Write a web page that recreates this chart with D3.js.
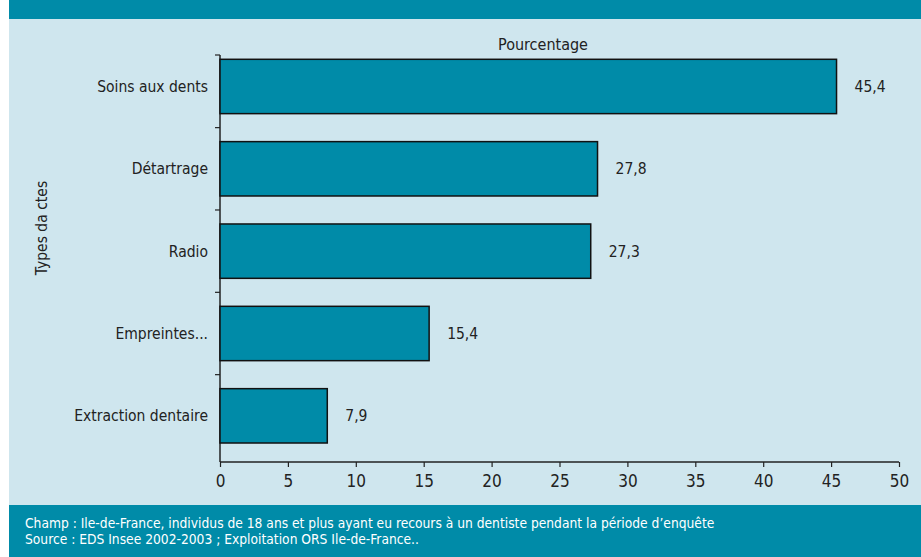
<!DOCTYPE html>
<html>
<head>
<meta charset="utf-8">
<script src="https://cdn.jsdelivr.net/npm/d3@7"></script>
<style>
  html, body { margin: 0; padding: 0; background: #ffffff; }
  svg { display: block; }
  text { font-family: "Liberation Sans Narrow", "DejaVu Sans Condensed", "Open Sans", sans-serif; }
</style>
</head>
<body>
<svg id="chart" width="921" height="557"></svg>
<script>
// Types of dental procedures (percentage of respondents)
const categories = ["Soins aux dents", "Détartrage", "Radio", "Empreintes...", "Extraction dentaire"];
const values = [45.4, 27.8, 27.3, 15.4, 7.9];
const valueLabels = ["45,4", "27,8", "27,3", "15,4", "7,9"];
const xTicks = [0, 5, 10, 15, 20, 25, 30, 35, 40, 45, 50];
const xTitle = "Pourcentage";
const yTitle = "Types da ctes";
const notes = [
  "Champ : Ile-de-France, individus de 18 ans et plus ayant eu recours à un dentiste pendant la période d’enquête",
  "Source : EDS Insee 2002-2003 ; Exploitation ORS Ile-de-France.."
];

const teal = "#008ba8";
const panel = "#cfe6ee";
const ink = "#222222";

const svg = d3.select("#chart");

// panel background and the two teal bands
svg.append("rect").attr("x", 9).attr("y", 0).attr("width", 912).attr("height", 557).attr("fill", panel);
svg.append("rect").attr("x", 9).attr("y", 0).attr("width", 912).attr("height", 19).attr("fill", teal);
svg.append("rect").attr("x", 9).attr("y", 505).attr("width", 912).attr("height", 52).attr("fill", teal);

const x = d3.scaleLinear().domain([0, 50]).range([220, 899]);
const y = d3.scaleBand().domain(categories).range([45.3, 457]).paddingInner(0.34).paddingOuter(0.17);

const axisTop = 55, axisBottom = 462;

// x axis
const xAxis = d3.axisBottom(x).tickValues(xTicks).tickSize(5).tickPadding(8).tickFormat(d3.format("d"));
const gx = svg.append("g").attr("transform", `translate(0,${axisBottom})`).call(xAxis);
gx.select(".domain").attr("stroke", ink).attr("stroke-width", 1.5).attr("d", `M${x(0)},0H${x(50)}`);
gx.selectAll(".tick line").attr("stroke", ink).attr("stroke-width", 1.2);
gx.selectAll(".tick text").attr("fill", ink).attr("font-size", 17);

// y axis line with ticks between categories
svg.append("line").attr("x1", x(0)).attr("x2", x(0)).attr("y1", axisTop).attr("y2", axisBottom)
  .attr("stroke", ink).attr("stroke-width", 1.5);
const sepYs = [axisTop].concat(categories.slice(1).map((c, i) => {
  const prev = categories[i];
  return (y(prev) + y.bandwidth() + y(c)) / 2;
}));
svg.selectAll(".ytick").data(sepYs).join("line")
  .attr("class", "ytick")
  .attr("x1", x(0) - 5).attr("x2", x(0))
  .attr("y1", d => d).attr("y2", d => d)
  .attr("stroke", ink).attr("stroke-width", 1.2);

// bars
svg.selectAll(".bar").data(values).join("rect")
  .attr("class", "bar")
  .attr("x", x(0))
  .attr("y", (d, i) => y(categories[i]))
  .attr("width", d => x(d) - x(0))
  .attr("height", y.bandwidth())
  .attr("fill", teal)
  .attr("stroke", "#111")
  .attr("stroke-width", 1.5);

// value labels
svg.selectAll(".val").data(values).join("text")
  .attr("class", "val")
  .attr("x", d => x(d) + 18)
  .attr("y", (d, i) => y(categories[i]) + y.bandwidth() / 2)
  .attr("dy", "0.35em")
  .attr("font-size", 15.5)
  .attr("fill", ink)
  .text((d, i) => valueLabels[i]);

// category labels
svg.selectAll(".cat").data(categories).join("text")
  .attr("class", "cat")
  .attr("x", 208)
  .attr("y", d => y(d) + y.bandwidth() / 2)
  .attr("dy", "0.35em")
  .attr("text-anchor", "end")
  .attr("font-size", 15.5)
  .attr("fill", ink)
  .text(d => d);

// axis titles
svg.append("text").attr("x", 543).attr("y", 50).attr("text-anchor", "middle")
  .attr("font-size", 16).attr("fill", ink).text(xTitle);
svg.append("text").attr("transform", "translate(47,228) rotate(-90)").attr("text-anchor", "middle")
  .attr("font-size", 15.5).attr("fill", ink).text(yTitle);

// notes
svg.selectAll(".note").data(notes).join("text")
  .attr("class", "note")
  .attr("x", 25)
  .attr("y", (d, i) => 528 + i * 16)
  .attr("font-size", 13.7)
  .attr("fill", "#ffffff")
  .text(d => d);
</script>
</body>
</html>
